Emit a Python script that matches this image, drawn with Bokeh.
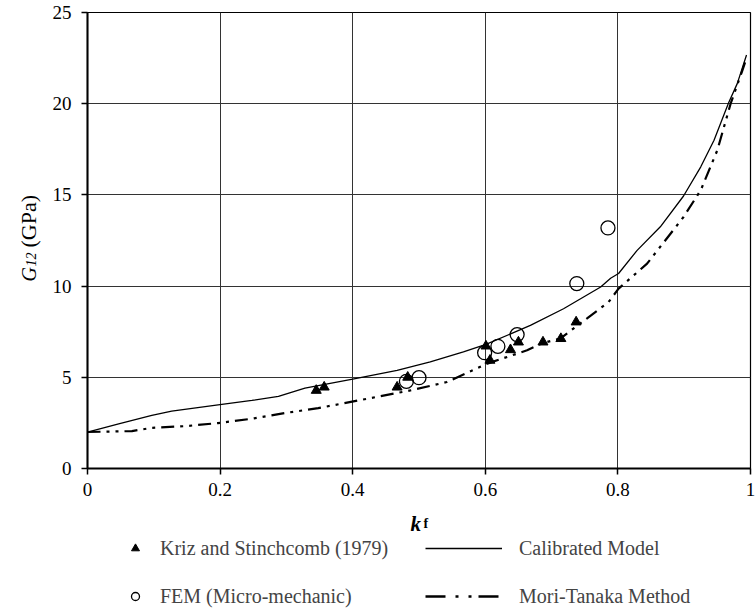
import math
import numpy as np
from bokeh.plotting import figure
from bokeh.layouts import row, column
from bokeh.models import (Range1d, FixedTicker, CustomJSTickFormatter, Legend,
                          LegendItem, Label)
from bokeh.embed import file_html
from bokeh.resources import INLINE

# ---- data ----
kriz_k = [0.345, 0.357, 0.467, 0.483, 0.601, 0.607, 0.638, 0.650, 0.687, 0.714, 0.737]
kriz_g = [4.28, 4.46, 4.46, 5.00, 6.71, 5.93, 6.51, 6.93, 6.93, 7.12, 8.03]

fem_k = [0.481, 0.500, 0.599, 0.619, 0.648, 0.738, 0.785]
fem_g = [4.78, 4.98, 6.35, 6.70, 7.34, 10.14, 13.19]

cal_k = [0.0, 0.047, 0.097, 0.127, 0.197, 0.248, 0.288, 0.328, 0.400, 0.467, 0.517,
         0.567, 0.601, 0.668, 0.718, 0.774, 0.789, 0.801, 0.829, 0.864, 0.899, 0.925,
         0.945, 0.967, 0.980, 0.994]
cal_g = [2.0, 2.45, 2.91, 3.15, 3.49, 3.73, 3.95, 4.41, 4.90, 5.38, 5.84,
         6.39, 6.80, 7.85, 8.76, 9.95, 10.43, 10.69, 11.96, 13.25, 14.94, 16.54,
         18.0, 20.05, 21.1, 22.67]

mt_k = [0.0, 0.067, 0.097, 0.147, 0.197, 0.248, 0.298, 0.348, 0.414, 0.487, 0.542,
        0.603, 0.663, 0.687, 0.713, 0.753, 0.786, 0.801, 0.844, 0.899, 0.925, 0.950,
        0.970, 0.987, 0.994]
mt_g = [2.0, 2.05, 2.23, 2.32, 2.49, 2.73, 3.04, 3.31, 3.77, 4.28, 4.74,
        5.75, 6.48, 6.88, 7.12, 8.22, 9.13, 9.86, 11.23, 13.79, 15.26, 17.45,
        20.0, 21.75, 22.5]

x_ticks = [0, 0.2, 0.4, 0.6, 0.8, 1]
y_ticks = [0, 5, 10, 15, 20, 25]

series_labels = ["Kriz and Stinchcomb (1979)", "FEM (Micro-mechanic)",
                 "Calibrated Model", "Mori-Tanaka Method"]

FONT = "Liberation Serif"
W, H = 756, 609
WL = 45          # width of the strip holding the y-axis title
HM = 508         # height of the main plot
WR = W - WL
HB = H - HM
FRAME_LEFT = 87  # page x of the plot frame's left edge (strips align to it)

# ---------------- main plot ----------------
p = figure(width=WR, height=HM, output_backend="svg", toolbar_location=None,
           x_range=Range1d(0, 1), y_range=Range1d(0, 25),
           min_border_left=FRAME_LEFT - WL, min_border_right=6, min_border_top=12,
           min_border_bottom=HM - 468)
p.background_fill_color = "white"
p.border_fill_color = "white"
p.outline_line_color = "black"
p.outline_line_width = 1.2

for ax in (p.xaxis[0], p.yaxis[0]):
    ax.axis_line_color = "black"
    ax.axis_line_width = 2
    ax.major_tick_line_color = "black"
    ax.major_tick_line_width = 1.5
    ax.major_tick_in = 0
    ax.major_tick_out = 6
    ax.minor_tick_line_color = None
    ax.major_label_text_font = FONT
    ax.major_label_text_font_size = "19px"
    ax.major_label_text_color = "black"

p.xaxis.ticker = FixedTicker(ticks=x_ticks)
p.yaxis.ticker = FixedTicker(ticks=y_ticks)
p.xaxis.formatter = CustomJSTickFormatter(code="return String(tick)")
p.yaxis.formatter = CustomJSTickFormatter(code="return String(tick)")
p.xaxis.major_label_standoff = 8
p.yaxis.major_label_standoff = 10

p.xgrid.ticker = FixedTicker(ticks=x_ticks)
p.ygrid.ticker = FixedTicker(ticks=y_ticks)
for g in (p.xgrid[0], p.ygrid[0]):
    g.grid_line_color = "#333333"
    g.grid_line_width = 1

CAL_STYLE = dict(line_color="black", line_width=1.3)
MT_STYLE = dict(line_color="black", line_width=2.2, line_dash="13 6 3 6 3 6")
MT_KEY_STYLE = dict(line_color="black", line_width=2.5, line_dash="20 10 3 10 3 7")
FEM_STYLE = dict(marker="circle", size=14, fill_alpha=0, line_color="black", line_width=1.3)
KRIZ_STYLE = dict(marker="triangle", size=10, fill_color="black", line_color="black")

p.line(cal_k, cal_g, **CAL_STYLE)
p.line(mt_k, mt_g, **MT_STYLE)
p.scatter(fem_k, fem_g, **FEM_STYLE)
p.scatter(kriz_k, kriz_g, **KRIZ_STYLE)


def blank(w, h):
    f = figure(width=w, height=h, output_backend="svg", toolbar_location=None,
               x_range=Range1d(0, 1), y_range=Range1d(0, 1),
               x_axis_location=None, y_axis_location=None, min_border=0)
    f.min_border_left = f.min_border_right = f.min_border_top = f.min_border_bottom = 0
    f.outline_line_color = None
    f.background_fill_color = "white"
    f.border_fill_color = "white"
    f.grid.visible = False
    return f


lab = dict(x_units="screen", y_units="screen", text_font=FONT, text_align="left",
           text_baseline="alphabetic", text_color="#000000")

# ---------------- strip for the y-axis title ----------------
left = blank(WL, H)
ang = math.pi / 2
left.add_layout(Label(x=28, y=H - 281, text="G", angle=ang, text_font_size="20px",
                      text_font_style="italic", **lab))
left.add_layout(Label(x=30, y=H - 266, text="12", angle=ang, text_font_size="14px",
                      text_font_style="italic", **lab))
left.add_layout(Label(x=28, y=H - 247, text="(GPa)", angle=ang, text_font_size="22px",
                      text_font_style="normal", **lab))

# ---------------- strip for the x-axis title and legend ----------------
bottom = blank(WR, HB)
bottom.add_layout(Label(x=410 - FRAME_LEFT, y=H - 523, text="k", text_font_size="21px",
                        text_font_style="bold italic", **lab))
bottom.add_layout(Label(x=423 - FRAME_LEFT, y=H - 523, text="f", text_font_size="14px",
                        text_font_style="bold", **lab))

# legend keys: renderers holding one missing (NaN) point, only to carry the styles
nan = np.array([np.nan])
k_key = bottom.scatter(nan, nan, **KRIZ_STYLE)
f_key = bottom.scatter(nan, nan, **FEM_STYLE)
c_key = bottom.line(nan, nan, **CAL_STYLE)
m_key = bottom.line(nan, nan, **MT_KEY_STYLE)

common = dict(padding=0, margin=0, border_line_alpha=0, background_fill_alpha=0,
              label_text_font=FONT, label_text_font_size="20px",
              label_height=24, glyph_height=24, spacing=24)
leg1 = Legend(items=[LegendItem(label=series_labels[0], renderers=[k_key]),
                     LegendItem(label=series_labels[1], renderers=[f_key])],
              location=(125 - FRAME_LEFT, 1), glyph_width=20, label_standoff=15, **common)
leg2 = Legend(items=[LegendItem(label=series_labels[2], renderers=[c_key]),
                     LegendItem(label=series_labels[3], renderers=[m_key])],
              location=(425 - FRAME_LEFT, 1), glyph_width=77, label_standoff=17, **common)
bottom.add_layout(leg1, "center")
bottom.add_layout(leg2, "center")

layout = row(left, column(p, bottom))
open("out.html", "w").write(file_html(layout, INLINE))
